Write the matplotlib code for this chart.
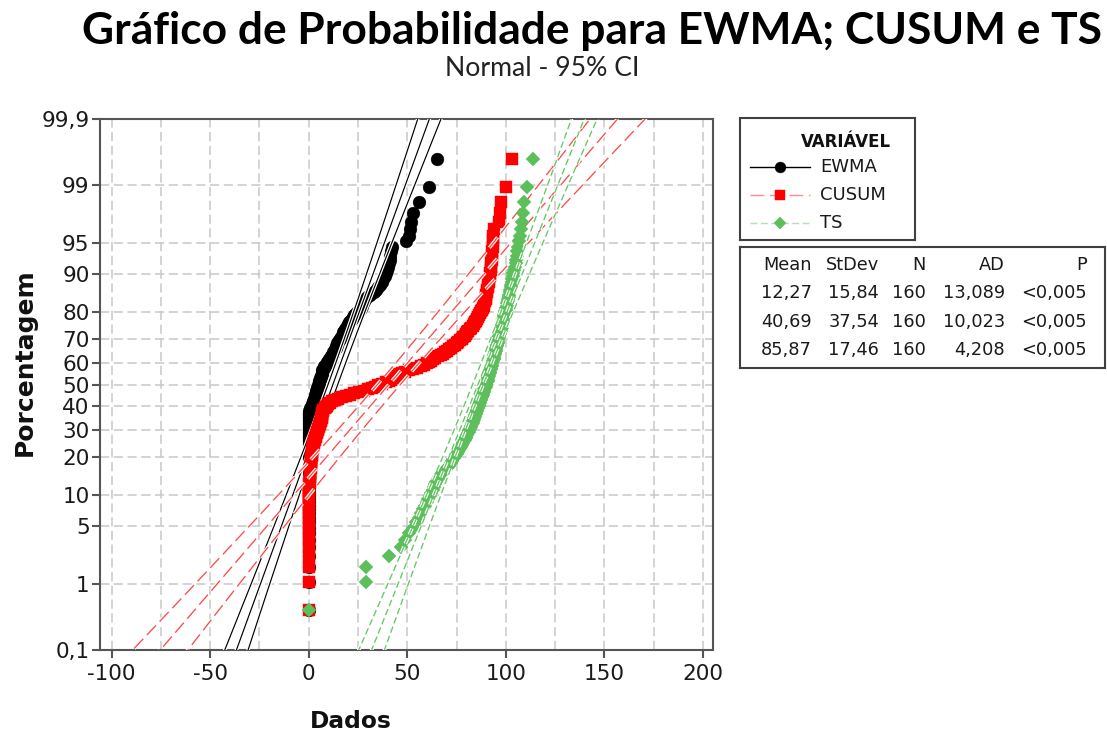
import matplotlib
matplotlib.use("Agg")
import matplotlib.pyplot as plt
import matplotlib.patheffects as pe
from matplotlib.lines import Line2D
from statistics import NormalDist
import numpy as np

# ---- sorted observations (160 per variable) ----
ewma = [
    0.0, 0.0, 0.0, 0.0, 0.0, 0.0, 0.0, 0.0, 0.0, 0.0,
    0.0, 0.0, 0.0, 0.0, 0.0, 0.0, 0.0, 0.0, 0.0, 0.0,
    0.0, 0.0, 0.0, 0.0, 0.0, 0.0, 0.0, 0.0, 0.0, 0.0,
    0.0, 0.0, 0.0, 0.0, 0.0, 0.0, 0.0, 0.0, 0.0, 0.0,
    0.0, 0.0, 0.0, 0.0, 0.0, 0.0, 0.0, 0.0, 0.0, 0.0,
    0.0, 0.0, 0.0, 0.0, 0.0, 0.0, 0.0, 0.0, 0.0, 0.0,
    0.0, 0.5, 0.8, 1.2, 1.5, 1.8, 2.0, 2.2, 2.5, 2.7,
    3.0, 3.3, 3.4, 3.6, 3.8, 3.9, 4.2, 4.4, 4.6, 4.8,
    5.0, 5.3, 5.4, 5.6, 5.8, 6.0, 6.2, 6.5, 6.6, 6.8,
    7.0, 7.2, 7.6, 8.0, 8.6, 9.2, 9.5, 9.8, 10.3, 10.8,
    11.2, 11.7, 12.1, 12.5, 12.9, 13.2, 13.6, 14.0, 14.2, 14.5,
    15.0, 15.5, 15.9, 16.3, 16.8, 17.2, 17.6, 18.0, 18.5, 19.0,
    19.5, 20.0, 20.5, 21.0, 21.8, 22.5, 23.2, 24.0, 25.0, 26.0,
    26.5, 27.0, 27.5, 28.0, 28.8, 29.5, 31.2, 33.0, 34.0, 35.0,
    36.0, 37.0, 37.8, 38.5, 39.0, 39.5, 40.0, 40.5, 41.0, 41.5,
    41.8, 42.5, 49.5, 51.0, 51.5, 52.0, 53.0, 56.0, 61.0, 65.0,
]

cusum = [
    0.0, 0.0, 0.0, 0.0, 0.0, 0.0, 0.0, 0.0, 0.0, 0.0,
    0.0, 0.0, 0.0, 0.0, 0.0, 0.0, 0.2, 0.3, 0.3, 0.4,
    0.5, 0.5, 0.6, 0.7, 0.8, 0.9, 1.0, 1.0, 1.1, 1.2,
    1.3, 1.4, 1.5, 1.5, 1.7, 1.9, 2.0, 2.2, 2.3, 2.5,
    2.7, 3.0, 3.2, 3.5, 3.7, 4.0, 4.2, 4.5, 4.7, 5.0,
    5.2, 5.5, 5.7, 6.0, 6.2, 6.5, 6.6, 6.7, 6.8, 7.0,
    7.2, 7.5, 8.2, 9.0, 9.5, 10.0, 11.0, 12.0, 13.5, 15.0,
    17.0, 19.0, 21.0, 23.0, 25.5, 28.0, 30.0, 32.0, 33.5, 35.0,
    37.0, 39.0, 40.5, 42.0, 43.0, 44.0, 45.0, 46.0, 47.5, 49.0,
    51.0, 53.0, 55.0, 57.0, 58.5, 60.0, 61.0, 62.0, 63.0, 64.0,
    65.5, 67.0, 68.0, 69.0, 70.0, 71.0, 72.0, 73.0, 74.0, 75.0,
    76.0, 77.0, 77.8, 78.5, 79.2, 80.0, 80.5, 81.0, 81.8, 82.5,
    83.2, 84.0, 84.5, 85.0, 85.5, 86.0, 86.5, 87.0, 87.5, 88.0,
    88.5, 89.0, 89.2, 89.5, 89.8, 90.0, 90.2, 90.5, 90.7, 91.0,
    91.2, 91.5, 91.7, 92.0, 92.2, 92.3, 92.5, 92.6, 92.8, 93.0,
    93.2, 93.3, 93.5, 93.6, 94.0, 96.5, 97.0, 97.5, 100.0, 103.0,
]

ts = [
    0.0, 29.0, 29.0, 40.7, 46.7, 49.0, 51.0, 53.0, 54.5, 56.0,
    57.0, 58.0, 59.0, 60.0, 60.5, 61.5, 62.2, 63.0, 63.5, 64.0,
    64.8, 65.5, 66.2, 67.0, 68.0, 69.0, 70.0, 71.0, 72.0, 72.5,
    73.0, 73.5, 74.2, 75.0, 75.8, 76.5, 77.0, 77.5, 78.0, 78.5,
    78.9, 79.2, 79.6, 80.0, 80.4, 80.8, 81.1, 81.5, 81.9, 82.2,
    82.6, 83.0, 83.2, 83.5, 83.8, 84.0, 84.2, 84.5, 84.8, 85.0,
    85.2, 85.5, 85.8, 86.0, 86.2, 86.5, 86.8, 87.0, 87.2, 87.5,
    87.8, 88.0, 88.2, 88.5, 88.8, 89.0, 89.2, 89.5, 89.8, 90.0,
    90.2, 90.5, 90.8, 91.0, 91.1, 91.2, 91.4, 91.5, 91.8, 92.0,
    92.2, 92.5, 92.6, 92.8, 92.9, 93.0, 93.2, 93.5, 93.8, 94.0,
    94.1, 94.2, 94.4, 94.5, 94.8, 95.0, 95.2, 95.5, 95.6, 95.8,
    95.9, 96.0, 96.2, 96.5, 96.8, 97.0, 97.2, 97.5, 97.8, 98.0,
    98.1, 98.2, 98.4, 98.5, 98.8, 99.0, 99.2, 99.5, 99.8, 100.0,
    100.2, 100.5, 100.8, 101.0, 101.2, 101.5, 101.8, 102.0, 102.2, 102.5,
    102.8, 103.0, 103.2, 103.5, 103.8, 104.2, 104.6, 105.0, 105.2, 105.5,
    105.8, 106.0, 106.5, 107.0, 107.5, 108.0, 108.5, 109.0, 111.0, 114.0,
]

# ---- summary statistics shown in the table ----
variables = ["EWMA", "CUSUM", "TS"]
means = [12.27, 40.69, 85.87]
stdevs = [15.84, 37.54, 17.46]
n_obs = [160, 160, 160]
ad_stats = [13.089, 10.023, 4.208]
p_labels = ["<0,005", "<0,005", "<0,005"]

prob_ticks = [0.1, 1, 5, 10, 20, 30, 40, 50, 60, 70, 80, 90, 95, 99, 99.9]
x_ticks = [-100, -50, 0, 50, 100, 150, 200]
x_minor = [-75, -25, 25, 75, 125, 175]

# ---- styles ----
series_data = [ewma, cusum, ts]
markers = ["o", "s", "D"]
marker_sizes = [9.2, 9.0, 7.4]
marker_colors = ["#000000", "#ff0000", "#5cbf5c"]
line_colors = ["#000000", "#ff4a4a", "#62c862"]
legend_line_colors = ["#000000", "#ff8c8c", "#b2e0b2"]
line_styles = ["-", (0, (10, 4)), (0, (5, 2.5))]
line_widths = [0.85, 0.95, 0.95]

nd = NormalDist()


def probit(pct):
    return nd.inv_cdf(pct / 100.0)


def fmt(v, nd_=2):
    return f"{v:.{nd_}f}".replace(".", ",")


W, H = 1107, 733
fig = plt.figure(figsize=(W / 100, H / 100), dpi=100)
fig.patch.set_facecolor("white")

# main probability axes (pixel box 100..713 x 119..650)
ax = fig.add_axes([100 / W, (H - 650) / H, 613.3 / W, 531 / H])
ax.set_xlim(-105.9, 205.3)
ax.set_ylim(probit(0.1), probit(99.9))

halo = [pe.Stroke(linewidth=2.6, foreground="white"), pe.Normal()]
zz = np.linspace(probit(0.02), probit(99.98), 300)
for k, vals in enumerate(series_data):
    n = len(vals)
    ranks = np.arange(1, n + 1)
    pp = (ranks - 0.3) / (n + 0.4)
    zs = np.array([nd.inv_cdf(q) for q in pp])
    ax.plot(np.sort(vals), zs, linestyle="none", marker=markers[k],
            ms=marker_sizes[k], mfc=marker_colors[k], mec=marker_colors[k],
            mew=0.3, zorder=3 + 2 * k)
    m, s = means[k], stdevs[k]
    fit = m + s * zz
    half = 1.96 * s * np.sqrt((1 + zz ** 2 / 2) / n_obs[k])
    for xs in (fit - half, fit, fit + half):
        ax.plot(xs, zz, color=line_colors[k], lw=line_widths[k],
                linestyle=line_styles[k], zorder=4 + 2 * k,
                path_effects=halo)

ax.set_yticks([probit(p) for p in prob_ticks])
ax.set_yticklabels([f"{p:g}".replace(".", ",") for p in prob_ticks])
ax.set_xticks(x_ticks)
ax.set_xticklabels([str(v) for v in x_ticks])
ax.set_xticks(x_minor, minor=True)

grid_kw = dict(color="#c8c8c8", linestyle=(0, (6, 3)), linewidth=1.1)
ax.grid(axis="y", which="major", **grid_kw)
ax.grid(axis="x", which="both", **grid_kw)
ax.set_axisbelow(True)

for sp in ax.spines.values():
    sp.set_color("#555555")
    sp.set_linewidth(1.5)
ax.tick_params(which="major", length=6, width=1.5, color="#555555",
               labelcolor="#1a1a1a", labelsize=15.5)
ax.tick_params(axis="x", which="major", pad=4)
ax.tick_params(axis="y", which="major", pad=1.5)
ax.tick_params(which="minor", length=0)

renderer = fig.canvas.get_renderer()


def fit_width(txt, target_px):
    bb = txt.get_window_extent(renderer=renderer)
    txt.set_fontsize(txt.get_fontsize() * target_px / bb.width)


# titles
t1 = fig.text(592 / W, 1 - 31 / H, "Gráfico de Probabilidade para EWMA; CUSUM e TS",
              ha="center", va="center", fontsize=30, fontweight="bold",
              family="Lato", color="black")
fit_width(t1, 1017)
t2 = fig.text(542 / W, 1 - 68 / H, "Normal - 95% CI", ha="center", va="center",
              fontsize=14, family="Lato", color="#222222")
fit_width(t2, 195)

# axis labels
yl = fig.text(25 / W, 1 - 362 / H, "Porcentagem", rotation=90, ha="center",
              va="center", fontsize=17, fontweight="bold", color="#111111")
bb = yl.get_window_extent(renderer=renderer)
yl.set_fontsize(yl.get_fontsize() * 187 / bb.height)
xl = fig.text(351 / W, 1 - 721 / H, "Dados", ha="center", va="center",
              fontsize=17, fontweight="bold", color="#111111")
fit_width(xl, 82)

# legend box (pixel box 740..915 x 118..240)
lg = fig.add_axes([740 / W, (H - 240) / H, 175 / W, 122 / H])
lg.set_xlim(0, 175)
lg.set_ylim(122, 0)
lg.set_xticks([])
lg.set_yticks([])
for sp in lg.spines.values():
    sp.set_color("#404040")
    sp.set_linewidth(1.5)
lg.text(106, 24, "VARIÁVEL", ha="center", va="center", fontsize=12,
        fontweight="bold", color="#111111")
entry_y = [49, 77, 105]
for k, name in enumerate(variables):
    y = entry_y[k]
    lg.add_line(Line2D([10, 70], [y, y], color=legend_line_colors[k],
                       lw=1.0, linestyle=line_styles[k]))
    lg.plot([40], [y], marker=markers[k], ms=marker_sizes[k] * 0.85,
            mfc=marker_colors[k], mec=marker_colors[k], mew=0.3)
    lg.text(80, y, name, ha="left", va="center", fontsize=13,
            color="#1a1a1a")

# statistics table (pixel box 740..1105 x 247..368)
st = fig.add_axes([740 / W, (H - 368) / H, 365 / W, 121 / H])
st.set_xlim(0, 365)
st.set_ylim(121, 0)
st.set_xticks([])
st.set_yticks([])
for sp in st.spines.values():
    sp.set_color("#404040")
    sp.set_linewidth(1.5)
col_x = [72, 139, 186, 265, 347]
row_y = [18, 46, 75, 103]
headers = ["Mean", "StDev", "N", "AD", "P"]
for cx, h in zip(col_x, headers):
    st.text(cx, row_y[0], h, ha="right", va="center", fontsize=12.8,
            color="#1a1a1a")
for k in range(len(variables)):
    cells = [fmt(means[k]), fmt(stdevs[k]), str(n_obs[k]),
             fmt(ad_stats[k], 3), p_labels[k]]
    for cx, c in zip(col_x, cells):
        st.text(cx, row_y[k + 1], c, ha="right", va="center", fontsize=12.8,
                color="#1a1a1a")

fig.savefig("out.png", dpi=100, facecolor="white")
